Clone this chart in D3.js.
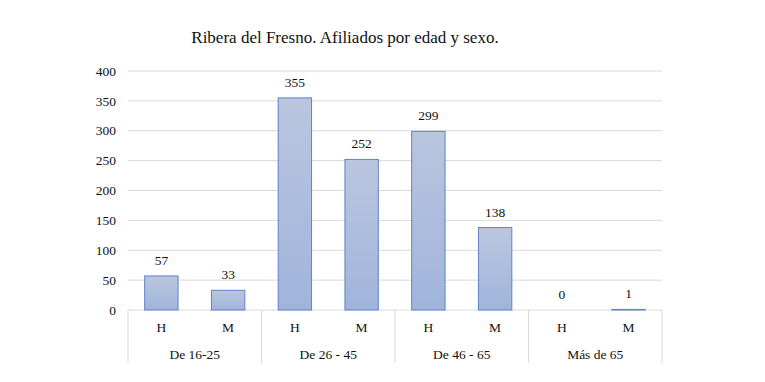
<!DOCTYPE html>
<html>
<head>
<meta charset="utf-8">
<script src="https://cdn.jsdelivr.net/npm/d3@7"></script>
<style>
  body { margin: 0; background: #fff; }
  text { font-family: "Liberation Serif", "DejaVu Serif", serif; fill: #111; }
</style>
</head>
<body>
<svg id="chart" width="765" height="382"></svg>
<script>
const groups = ["De 16-25", "De 26 - 45", "De 46 - 65", "Más de 65"];
const sexes = ["H", "M"];
const hombres = [57, 355, 299, 0];
const mujeres = [33, 252, 138, 1];
const yTicks = [0, 50, 100, 150, 200, 250, 300, 350, 400];
const title = "Ribera del Fresno. Afiliados por edad y sexo.";

const data = [];
groups.forEach((g, i) => {
    data.push({ group: g, sex: "H", value: hombres[i] });
    data.push({ group: g, sex: "M", value: mujeres[i] });
});

const margin = { left: 128, right: 103, top: 71, bottom: 72 };
const width = 765, height = 382;
const plotW = width - margin.left - margin.right;
const plotH = height - margin.top - margin.bottom;

const svg = d3.select("#chart");

const defs = svg.append("defs");
const grad = defs.append("linearGradient")
    .attr("id", "barGrad")
    .attr("x1", 0).attr("y1", 0).attr("x2", 0).attr("y2", 1);
grad.append("stop").attr("offset", "0%").attr("stop-color", "#bac6df");
grad.append("stop").attr("offset", "100%").attr("stop-color", "#a0b4db");

const g = svg.append("g").attr("transform", `translate(${margin.left},${margin.top})`);

const x0 = d3.scaleBand().domain(groups).range([0, plotW]);
const x1 = d3.scaleBand().domain(sexes).range([0, x0.bandwidth()])
    .paddingInner(0.5).paddingOuter(0.25);
const y = d3.scaleLinear().domain([0, 400]).range([plotH, 0]);

// gridlines
g.selectAll("line.grid")
    .data(yTicks)
    .enter().append("line")
    .attr("class", "grid")
    .attr("x1", 0).attr("x2", plotW)
    .attr("y1", d => y(d)).attr("y2", d => y(d))
    .attr("stroke", "#d9d9d9")
    .attr("stroke-width", 1);

// y labels
g.selectAll("text.ytick")
    .data(yTicks)
    .enter().append("text")
    .attr("class", "ytick")
    .attr("x", -12)
    .attr("y", d => y(d))
    .attr("dy", "0.35em")
    .attr("text-anchor", "end")
    .attr("font-size", 13.5)
    .text(d => d);

// bars
const bar = g.selectAll("g.bar")
    .data(data)
    .enter().append("g")
    .attr("class", "bar")
    .attr("transform", d => `translate(${x0(d.group) + x1(d.sex)},0)`);

bar.append("rect")
    .attr("x", 0)
    .attr("y", d => y(d.value))
    .attr("width", x1.bandwidth())
    .attr("height", d => plotH - y(d.value))
    .attr("fill", "url(#barGrad)")
    .attr("stroke", "#5f83c6")
    .attr("stroke-width", 1);

bar.append("text")
    .attr("x", x1.bandwidth() / 2)
    .attr("y", d => y(d.value) - 11)
    .attr("text-anchor", "middle")
    .attr("font-size", 13.5)
    .text(d => d.value);

// category axis
const bounds = groups.map(d => x0(d)).concat([plotW]);
g.selectAll("line.sep")
    .data(bounds)
    .enter().append("line")
    .attr("class", "sep")
    .attr("x1", d => d).attr("x2", d => d)
    .attr("y1", plotH).attr("y2", plotH + 53)
    .attr("stroke", "#d9d9d9");

g.selectAll("text.sex")
    .data(data)
    .enter().append("text")
    .attr("class", "sex")
    .attr("x", d => x0(d.group) + x1(d.sex) + x1.bandwidth() / 2)
    .attr("y", plotH + 22)
    .attr("text-anchor", "middle")
    .attr("font-size", 13.5)
    .text(d => d.sex);

g.selectAll("text.group")
    .data(groups)
    .enter().append("text")
    .attr("class", "group")
    .attr("x", d => x0(d) + x0.bandwidth() / 2)
    .attr("y", plotH + 49)
    .attr("text-anchor", "middle")
    .attr("font-size", 13.5)
    .text(d => d);

svg.append("text")
    .attr("x", 345)
    .attr("y", 43)
    .attr("text-anchor", "middle")
    .attr("font-size", 17)
    .text(title);
</script>
</body>
</html>
